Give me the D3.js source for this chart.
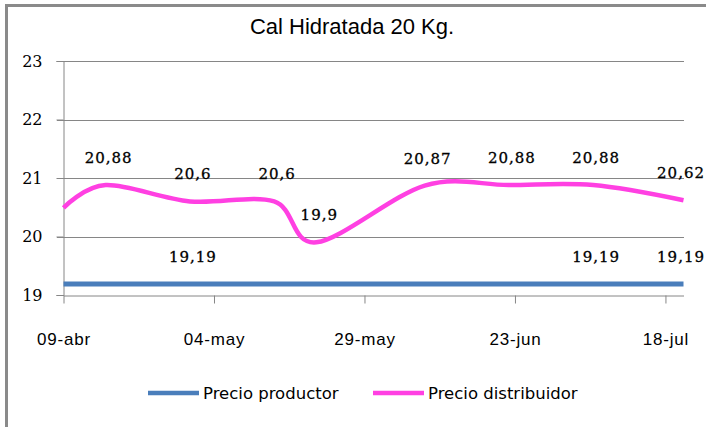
<!DOCTYPE html>
<html lang="es">

<head>
  <meta charset="UTF-8">
  <title>Cal Hidratada 20 Kg.</title>
  <style>
    body {
      margin: 0;
      background: #fff;
    }

    #chart {
      width: 706px;
      height: 427px;
    }
  </style>
</head>

<body>
  <div id="chart"></div>
  <script src="https://cdn.jsdelivr.net/npm/d3@7/dist/d3.min.js"></script>
  <script>
    // datos
    const dates = ['2010-04-09', '2010-04-16', '2010-04-30', '2010-05-14', '2010-05-21',
      '2010-06-08', '2010-06-22', '2010-07-06', '2010-07-21'];
    const productor = [19.19, 19.19, 19.19, 19.19, 19.19, 19.19, 19.19, 19.19, 19.19];
    const distribuidor = [20.49, 20.88, 20.6, 20.6, 19.9, 20.87, 20.88, 20.88, 20.62];
    // which points carry a data label
    const productorLabels = [false, false, true, false, false, false, false, true, true];
    const distribuidorLabels = [false, true, true, true, true, true, true, true, true];
    const xTickDates = ['2010-04-09', '2010-05-04', '2010-05-29', '2010-06-23', '2010-07-18'];
    const xTickLabels = ['09-abr', '04-may', '29-may', '23-jun', '18-jul'];
    const yTicks = [19, 20, 21, 22, 23];
    const seriesNames = ['Precio productor', 'Precio distribuidor'];
    const colors = ['#4a7ebb', '#ff40e2'];

    const parse = d3.timeParse('%Y-%m-%d');
    const width = 706, height = 427;

    const svg = d3.select('#chart').append('svg')
      .attr('width', width)
      .attr('height', height);

    // marco gris (solo se ven arriba y a la izquierda)
    svg.append('rect')
      .attr('x', 6.5).attr('y', 5.5)
      .attr('width', 800).attr('height', 500)
      .attr('fill', 'none')
      .attr('stroke', '#8a8a8a')
      .attr('stroke-width', 3);

    svg.append('text')
      .attr('x', 352).attr('y', 34)
      .attr('text-anchor', 'middle')
      .style('font-family', '"Liberation Sans", Arial, sans-serif')
      .style('font-size', '22px')
      .attr('fill', '#000')
      .text('Cal Hidratada 20 Kg.');

    const x = d3.scaleTime()
      .domain([parse(dates[0]), parse(dates[dates.length - 1])])
      .range([63.5, 683.5]);

    const y = d3.scaleLinear()
      .domain([19, 23])
      .range([295, 61]);

    // gridlines
    svg.append('g')
      .selectAll('line')
      .data(yTicks.slice(1))
      .join('line')
      .attr('x1', 57).attr('x2', 684)
      .attr('y1', d => Math.round(y(d)) + 0.5)
      .attr('y2', d => Math.round(y(d)) + 0.5)
      .attr('stroke', '#868686');

    // y axis
    const yAxis = svg.append('g')
      .attr('transform', 'translate(63.5,0)')
      .call(d3.axisLeft(y).tickValues(yTicks).tickFormat(d3.format('d')).tickSize(7).tickPadding(14));
    yAxis.select('.domain').attr('stroke', '#868686');
    yAxis.selectAll('.tick line').attr('stroke', '#868686');
    yAxis.selectAll('text')
      .style('font-family', '"DejaVu Serif", serif')
      .style('font-size', '16px')
      .attr('fill', '#000');

    // x axis
    const xAxis = svg.append('g')
      .attr('transform', 'translate(0,295.5)')
      .call(d3.axisBottom(x)
        .tickValues(xTickDates.map(parse))
        .tickFormat((d, i) => xTickLabels[i])
        .tickSize(8)
        .tickPadding(29)
        .tickSizeOuter(0));
    xAxis.select('.domain').attr('stroke', '#868686');
    xAxis.selectAll('.tick line').attr('stroke', '#868686');
    xAxis.selectAll('text')
      .style('font-family', '"Liberation Sans", Arial, sans-serif')
      .style('font-size', '17px')
      .style('letter-spacing', '0.8px')
      .attr('fill', '#000');

    const line = d3.line()
      .x((d, i) => x(parse(dates[i])))
      .y(d => y(d))
      .curve(d3.curveCardinal.tension(0));

    [productor, distribuidor].forEach((values, s) => {
      svg.append('path')
        .datum(values)
        .attr('d', line)
        .attr('fill', 'none')
        .attr('stroke', colors[s])
        .attr('stroke-width', s === 0 ? 5 : 4.5)
        .attr('stroke-linejoin', 'round');
    });

    // etiquetas de datos
    function drawLabels(values, show) {
      svg.append('g')
        .selectAll('text')
        .data(values.map((v, i) => ({ v, i })).filter(d => show[d.i]))
        .join('text')
        .attr('x', d => x(parse(dates[d.i])) + 3)
        .attr('y', d => y(d.v) - 22)
        .attr('text-anchor', 'middle')
        .style('font-family', '"DejaVu Serif", serif')
        .style('font-size', '15px')
        .style('letter-spacing', '1px')
        .attr('fill', '#000')
        .attr('stroke', '#000')
        .attr('stroke-width', 0.3)
        .text(d => String(d.v).replace('.', ','))
        // keep labels near the right edge inside the picture
        .each(function () {
          const half = this.getComputedTextLength() / 2;
          const cx = +this.getAttribute('x');
          if (cx + half > width - 1) this.setAttribute('x', width - 1 - half);
        });
    }
    drawLabels(productor, productorLabels);
    drawLabels(distribuidor, distribuidorLabels);

    // leyenda
    const legendX = [148, 373];
    const legend = svg.append('g')
      .selectAll('g')
      .data(seriesNames)
      .join('g')
      .attr('transform', (d, i) => `translate(${legendX[i]},393)`);
    legend.append('line')
      .attr('x1', 0).attr('x2', 51)
      .attr('stroke', (d, i) => colors[i])
      .attr('stroke-width', 4.5);
    legend.append('text')
      .attr('x', 55)
      .attr('y', 6)
      .style('font-family', '"DejaVu Sans", sans-serif')
      .style('font-size', '16.5px')
      .attr('fill', '#000')
      .text(d => d);
  </script>
</body>

</html>
